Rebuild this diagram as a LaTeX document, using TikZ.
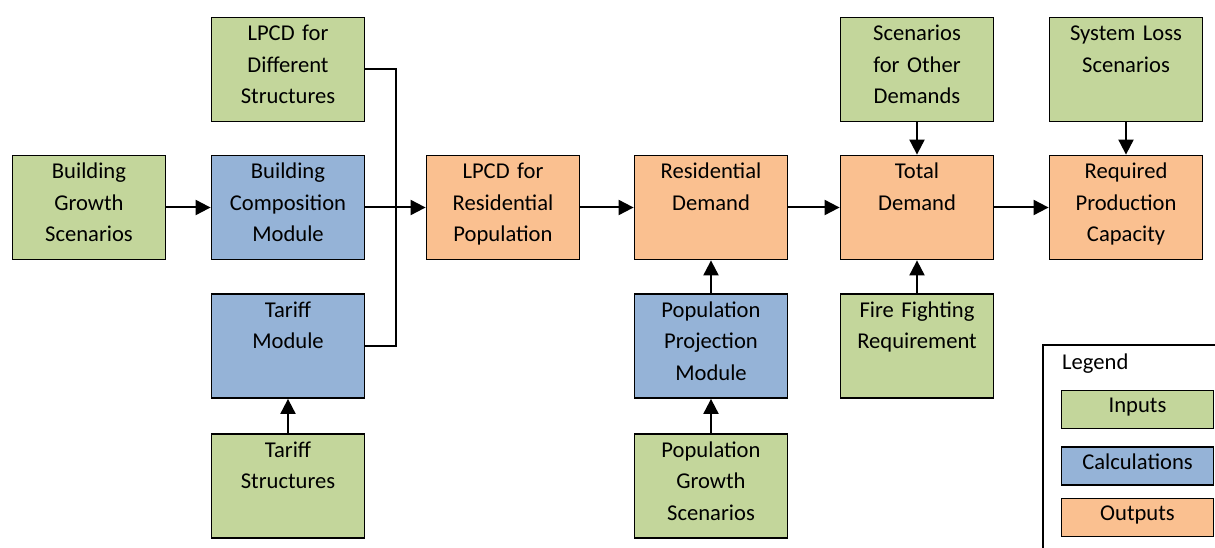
\documentclass[tikz,border=0pt]{standalone}
\usepackage{fontspec}
\setmainfont{Carlito}
\usetikzlibrary{arrows.meta}
\definecolor{inputc}{HTML}{C3D69B}
\definecolor{calcc}{HTML}{95B3D7}
\definecolor{outc}{HTML}{FAC090}
\tikzset{
  blk/.style={draw=black, line width=1.8pt, minimum width=153pt, minimum height=104pt, inner sep=0pt},
  lbl/.style={anchor=base, align=center, text width=152pt, inner sep=0pt,
              font=\fontsize{22.6}{31.5}\selectfont},
  legitem/.style={draw=black, line width=1.8pt, minimum width=152pt, minimum height=38pt, inner sep=0pt},
  flow/.style={line width=2pt, -{Triangle[length=15pt,width=15pt]}},
  link/.style={line width=2pt}
}
% box with its text set from the top edge down
\newcommand{\flowbox}[5]{%
  \node[blk, fill=#4] (#1) at (#2,#3) {};
  \node[lbl] (#1-t) at ([yshift=-24pt]#1.north) {#5};
}
\begin{document}
\begin{tikzpicture}[x=1pt, y=-1pt]
\useasboundingbox (0,0) rectangle (1215,548);
\clip (0,0) rectangle (1215,548);

% boxes
\flowbox{ldiff}{288}{69.5}{inputc}{LPCD for\\Different\\Structures}
\flowbox{bgs}{89}{207.5}{inputc}{Building\\Growth\\Scenarios}
\flowbox{bcm}{288}{207.5}{calcc}{Building\\Composition\\Module}
\flowbox{tm}{288}{346}{calcc}{Tariff\\Module}
\flowbox{ts}{288}{486}{inputc}{Tariff\\Structures}
\flowbox{lres}{503}{207.5}{outc}{LPCD for\\Residential\\Population}
\flowbox{rd}{711}{207.5}{outc}{Residential\\Demand}
\flowbox{pp}{711}{346}{calcc}{Population\\Projection\\Module}
\flowbox{pg}{711}{486}{inputc}{Population\\Growth\\Scenarios}
\flowbox{od}{917}{69.5}{inputc}{Scenarios\\for Other\\Demands}
\flowbox{td}{917}{207.5}{outc}{Total\\Demand}
\flowbox{ff}{917}{346}{inputc}{Fire Fighting\\Requirement}
\flowbox{sl}{1126}{69.5}{inputc}{System Loss\\Scenarios}
\flowbox{rp}{1126}{207.5}{outc}{Required\\Production\\Capacity}

% connectors
\draw[flow] (bgs.east) -- (bcm.west);
\draw[link] (ldiff.east) -- ++(31,0) |- (tm.east);
\draw[flow] (bcm.east) -- (lres.west);
\draw[flow] (ts.north) -- (tm.south);
\draw[flow] (lres.east) -- (rd.west);
\draw[flow] (pg.north) -- (pp.south);
\draw[flow] (pp.north) -- (rd.south);
\draw[flow] (rd.east) -- (td.west);
\draw[flow] (od.south) -- (td.north);
\draw[flow] (ff.north) -- (td.south);
\draw[flow] (td.east) -- (rp.west);
\draw[flow] (sl.south) -- (rp.north);

% legend
\draw[line width=1.2pt] (1043,345) rectangle (1240,570);
\node[anchor=base west, inner sep=0pt, font=\fontsize{22.6}{31}\selectfont] (legtitle) at (1062,369) {Legend};
\node[legitem, fill=inputc] (legin) at (1137.5,409.5) {};
\node[legitem, fill=calcc] (legcalc) at (1137.5,466) {};
\node[legitem, fill=outc] (legout) at (1137.5,517.5) {};
\node[lbl] (legin-t) at ([yshift=-23pt]legin.north) {Inputs};
\node[lbl] (legcalc-t) at ([yshift=-23pt]legcalc.north) {Calculations};
\node[lbl] (legout-t) at ([yshift=-23pt]legout.north) {Outputs};
\end{tikzpicture}
\end{document}
